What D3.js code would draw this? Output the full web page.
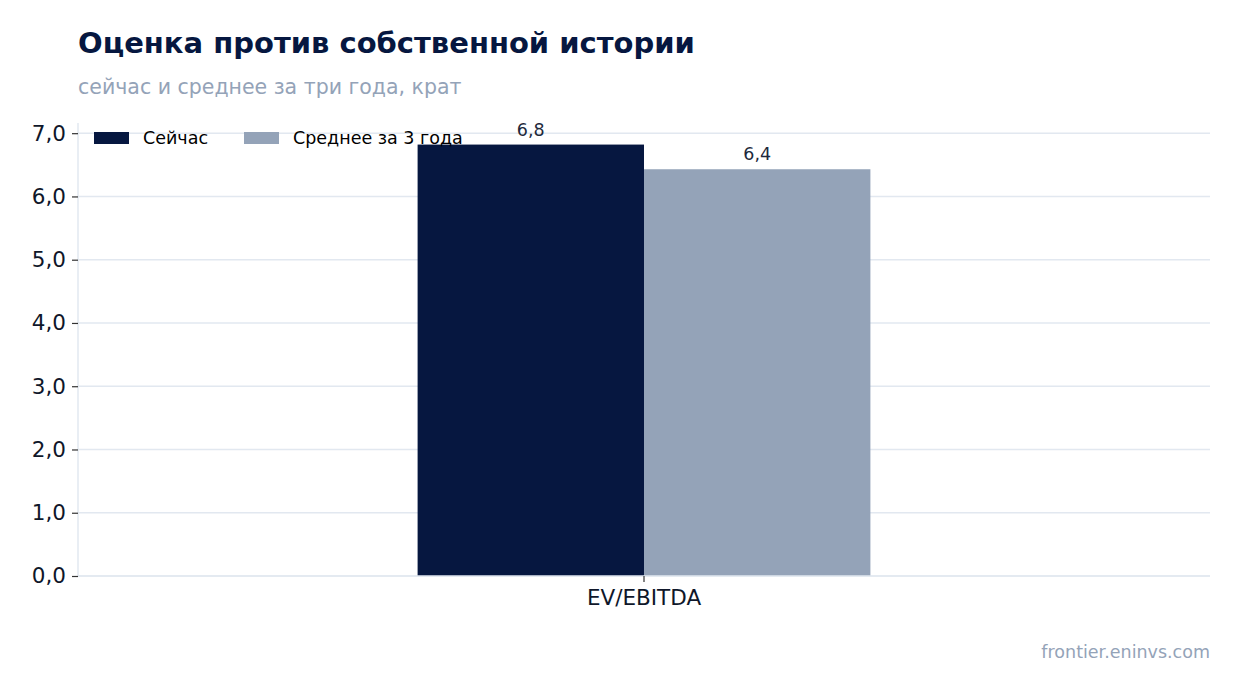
<!DOCTYPE html>
<html>
<head>
<meta charset="utf-8">
<script src="https://cdn.jsdelivr.net/npm/d3@7"></script>
<style>
  body { margin: 0; background: #fff; }
  text { font-family: "DejaVu Sans", sans-serif; }
</style>
</head>
<body>
<svg id="chart" width="1240" height="693"></svg>
<script>
// data
var categories = ["EV/EBITDA"];
var seriesNames = ["Сейчас", "Среднее за 3 года"];
var nowValues = [6.82];
var avgValues = [6.43];
var yTicks = [0, 1, 2, 3, 4, 5, 6, 7];
var colors = ["#061740", "#94a3b8"];

var margin = {top: 123, right: 30, bottom: 117, left: 78},
    width = 1240 - margin.left - margin.right,
    height = 693 - margin.top - margin.bottom;

var svg = d3.select("#chart");

// title + subtitle
svg.append("text")
    .attr("x", 78).attr("y", 53)
    .attr("font-size", 29).attr("font-weight", "bold")
    .attr("fill", "#061740")
    .text("Оценка против собственной истории");
svg.append("text")
    .attr("x", 78).attr("y", 94)
    .attr("font-size", 20.5)
    .attr("fill", "#94a3b8")
    .text("сейчас и среднее за три года, крат");

var g = svg.append("g")
    .attr("transform", `translate(${margin.left},${margin.top})`);

var x = d3.scaleBand()
    .domain(categories)
    .range([0, width])
    .paddingInner(0)
    .paddingOuter(0.75);

var xSub = d3.scaleBand()
    .domain(seriesNames)
    .range([0, x.bandwidth()]);

var y = d3.scaleLinear()
    .domain([0, d3.max(nowValues.concat(avgValues)) * 1.05])
    .range([height, 0]);

var fmt = v => d3.format(".1f")(v).replace(".", ",");

// grid
g.append("g").selectAll("line")
    .data(yTicks)
    .join("line")
    .attr("x1", 0).attr("x2", width)
    .attr("y1", d => y(d)).attr("y2", d => y(d))
    .attr("stroke", "#e2e8f0").attr("stroke-width", 1.5);

// bars
var rows = categories.map((c, i) => ({cat: c, vals: [nowValues[i], avgValues[i]]}));
var groups = g.selectAll(".grp")
    .data(rows)
    .join("g")
    .attr("class", "grp")
    .attr("transform", d => `translate(${x(d.cat)},0)`);

groups.selectAll("rect")
    .data(d => d.vals.map((v, j) => ({name: seriesNames[j], v: v, j: j})))
    .join("rect")
    .attr("x", d => xSub(d.name))
    .attr("y", d => y(d.v))
    .attr("width", xSub.bandwidth())
    .attr("height", d => height - y(d.v))
    .attr("fill", d => colors[d.j]);

groups.selectAll(".val")
    .data(d => d.vals.map((v, j) => ({name: seriesNames[j], v: v, j: j})))
    .join("text")
    .attr("class", "val")
    .attr("x", d => xSub(d.name) + xSub.bandwidth() / 2)
    .attr("y", d => y(d.v) - 9)
    .attr("text-anchor", "middle")
    .attr("font-size", 17.5)
    .attr("fill", "#1e293b")
    .text(d => fmt(d.v));

// spines
g.append("line").attr("x1", 0).attr("x2", 0).attr("y1", 0).attr("y2", height)
    .attr("stroke", "#e2e8f0").attr("stroke-width", 1.5);
g.append("line").attr("x1", 0).attr("x2", width).attr("y1", height).attr("y2", height)
    .attr("stroke", "#e2e8f0").attr("stroke-width", 1.5);

// y axis
var yAxis = g.append("g")
    .call(d3.axisLeft(y).tickValues(yTicks).tickFormat(fmt).tickSize(6).tickPadding(6));
yAxis.select(".domain").remove();
yAxis.selectAll(".tick line").attr("stroke", "#333").attr("stroke-width", 1.2);
yAxis.selectAll(".tick text")
    .attr("font-size", 21.5).attr("fill", "#0f172a")
    .attr("font-family", "DejaVu Sans");

// x axis
var xAxis = g.append("g")
    .attr("transform", `translate(0,${height})`)
    .call(d3.axisBottom(x).tickSize(6).tickPadding(8));
xAxis.select(".domain").remove();
xAxis.selectAll(".tick line").attr("stroke", "#333").attr("stroke-width", 1.2);
xAxis.selectAll(".tick text")
    .attr("font-size", 21.5).attr("fill", "#0f172a")
    .attr("font-family", "DejaVu Sans");

// legend
var legend = g.append("g").attr("transform", "translate(16,9)");
var legX = [0, 150];
seriesNames.forEach(function(name, i) {
    var lg = legend.append("g").attr("transform", `translate(${legX[i]},0)`);
    lg.append("rect").attr("width", 35).attr("height", 12).attr("fill", colors[i]);
    lg.append("text").attr("x", 49).attr("y", 12)
        .attr("font-size", 17.5).attr("fill", "#000")
        .text(name);
});

// source
svg.append("text")
    .attr("x", 1210).attr("y", 658)
    .attr("text-anchor", "end")
    .attr("font-size", 17.5)
    .attr("fill", "#94a3b8")
    .text("frontier.eninvs.com");
</script>
</body>
</html>
